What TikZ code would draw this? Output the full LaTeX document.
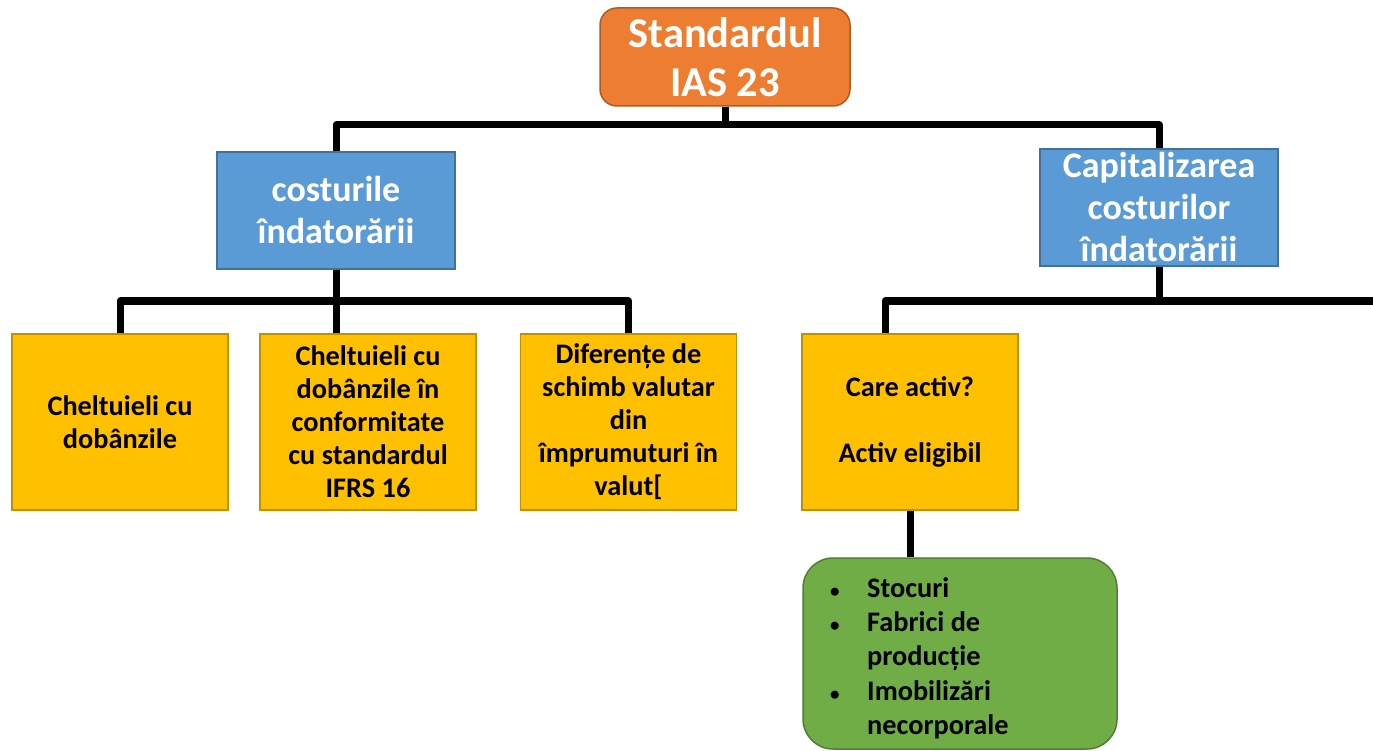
\documentclass[tikz,border=0pt]{standalone}
\usepackage{fontspec}
\setmainfont{Carlito}
\usepackage{array}
\definecolor{orfill}{HTML}{ED7D31}
\definecolor{ordraw}{HTML}{AE5A21}
\definecolor{blfill}{HTML}{5B9BD5}
\definecolor{bldraw}{HTML}{41719C}
\definecolor{yefill}{HTML}{FFC000}
\definecolor{yedraw}{HTML}{BF9000}
\definecolor{grfill}{HTML}{70AD47}
\definecolor{grdraw}{HTML}{507E32}
\newcommand{\smbullet}{{\fontsize{19}{19}\selectfont\textbullet}}
\tikzset{
  topbox/.style={draw=ordraw, fill=orfill, line width=1.5pt, rounded corners=17pt,
    minimum width=250pt, minimum height=98pt, inner sep=0pt, align=center, text=white,
    font=\bfseries\fontsize{42.5}{49}\selectfont},
  bluebox/.style={draw=bldraw, fill=blfill, line width=2pt,
    minimum width=238pt, minimum height=117pt, inner sep=0pt, align=center, text=white,
    font=\bfseries\fontsize{36}{42}\selectfont},
  yelbox/.style={draw=yedraw, fill=yefill, line width=1.5pt,
    minimum width=216pt, minimum height=176pt, inner sep=0pt, align=center, text=black,
    font=\bfseries\fontsize{28.3}{33}\selectfont},
  grnbox/.style={draw=grdraw, fill=grfill, line width=1.5pt, rounded corners=30pt,
    minimum width=314pt, minimum height=191pt, inner sep=0pt},
  conn/.style={draw=black, line width=7pt, line join=round},
}
\begin{document}
\begin{tikzpicture}[x=1pt,y=-1pt]
\useasboundingbox (0,0) rectangle (1373,751);
% nodes
\node[topbox] (top) at (725,57) {Standardul\\IAS 23};
\node[bluebox] (b1) at (336,210.5) {costurile\\îndatorării};
\node[bluebox] (b2) at (1159,207.5) {Capitalizarea\\costurilor\\îndatorării};
\node[yelbox] (y1) at (120,422) {Cheltuieli cu\\dobânzile};
\node[yelbox] (y2) at (368,422) {Cheltuieli cu\\dobânzile în\\conformitate\\cu standardul\\IFRS 16};
\node[yelbox] (y3) at (628.5,422) {Diferențe de\\schimb valutar\\din\\împrumuturi în\\valut[};
\node[yelbox] (y4) at (910,422) {Care activ?\\[33pt]Activ eligibil};
\node[grnbox] (g) at (960,653.5) {};
\node[anchor=west, inner sep=0pt, text=black, font=\bfseries\fontsize{28.3}{34.2}\selectfont] (gt) at (830,659)
  {\renewcommand{\arraystretch}{1}\begin{tabular}{@{}p{37pt}@{}l@{}}
   \smbullet & Stocuri\\
   \smbullet & Fabrici de\\
               & producție\\
   \smbullet & Imobilizări\\
               & necorporale
  \end{tabular}};
% junction coordinates
\coordinate (ht) at (0,125);
\coordinate (hl) at (0,301);
\coordinate (rend) at (1373,301);
% connectors
\draw[conn] (top.south) -- (top.south |- ht);
\draw[conn] (b1.north) -- (b1.north |- ht) -- (b2.north |- ht) -- (b2.north);
\draw[conn] (b1.south) -- (b1.south |- y2.north);
\draw[conn] (y1.north) -- (y1.north |- hl) -- (y3.north |- hl) -- (y3.north);
\draw[conn] (b2.south) -- (b2.south |- rend);
\draw[conn] (rend) -| ([xshift=-25pt]y4.north);
\draw[conn] (y4.south) -- (g.north -| y4.south);
\end{tikzpicture}
\end{document}
